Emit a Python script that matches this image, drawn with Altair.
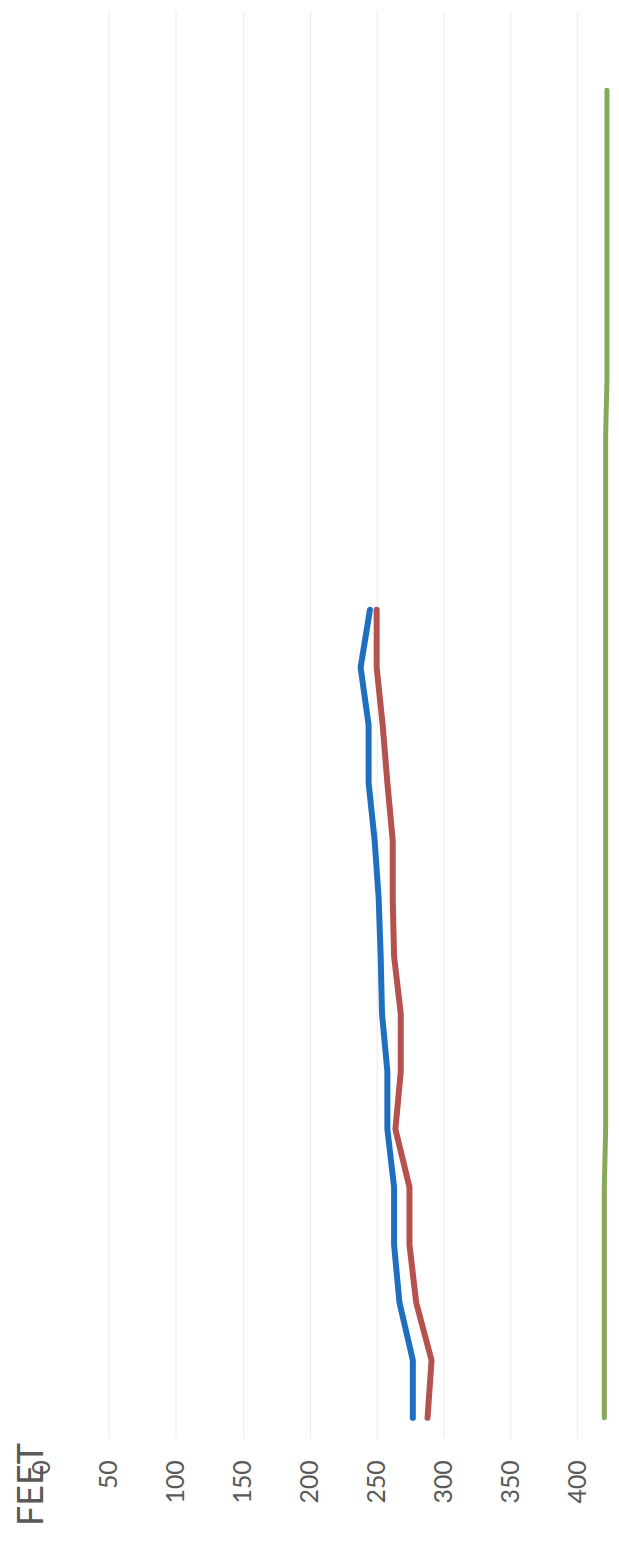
import altair as alt
import pandas as pd

# period index (bottom of page = first period)
periods = list(range(1, 25))

blue_vals = [277, 277, 267, 263, 263, 258, 258, 254, 253, 251.5, 248.5, 244, 244, 238, 245]
red_vals = [288, 291, 279.5, 274.5, 274.5, 264, 268, 268, 263, 262, 262, 258, 254.5, 250, 250]
green_vals = [420, 420, 420, 420, 420, 421, 421, 421, 421, 421, 421, 421,
              421, 421, 421, 421, 421, 421, 422, 422, 422, 422, 422, 422]

series_names = ["Blue", "Red", "Green"]
series_colors = ["#1F6FC0", "#B5514F", "#86A85A"]
series_widths = [6, 6, 5]

rows = []
for name, vals in zip(series_names, [blue_vals, red_vals, green_vals]):
    for p, v in zip(periods, vals):
        rows.append({"series": name, "period": p, "feet": v})
df = pd.DataFrame(rows)

tick_values = [0, 50, 100, 150, 200, 250, 300, 350, 400]

x = alt.X(
    "feet:Q",
    scale=alt.Scale(domain=[0, 425], nice=False, zero=True),
    axis=alt.Axis(
        values=tick_values,
        title="FEET",
        titleAngle=270,
        titleAlign="left",
        titleBaseline="alphabetic",
        titleX=1,
        titleY=88,
        titleFont="Lato",
        titleFontSize=36,
        titleFontWeight="normal",
        titleColor="#595959",
        labelAngle=270,
        labelFont="Lato",
        labelFontSize=25,
        labelColor="#595959",
        labelPadding=22,
        ticks=False,
        domain=False,
        grid=True,
        gridColor={"condition": {"test": "datum.value == 0", "value": "transparent"}, "value": "#EBEBEB"},
        gridWidth=1,
    ),
)
y = alt.Y(
    "period:Q",
    scale=alt.Scale(domain=[0.655, 25.38], nice=False, zero=False),
    axis=None,
)

layers = []
for name, col, w in zip(series_names, series_colors, series_widths):
    layers.append(
        alt.Chart(df[df.series == name])
        .mark_line(color=col, strokeWidth=w, strokeCap="round", strokeJoin="round", clip=False)
        .encode(x=x, y=y, order="period:Q")
    )

chart = (
    alt.layer(*layers)
    .properties(
        width=571,
        height=1432,
        autosize=alt.AutoSizeParams(type="none"),
        padding={"left": 34, "right": 0, "top": 0, "bottom": 96},
    )
    .configure(background="white")
    .configure_view(stroke=None, strokeWidth=0)
)

chart.save("out.html", embed_options={"renderer": "svg", "actions": False})
